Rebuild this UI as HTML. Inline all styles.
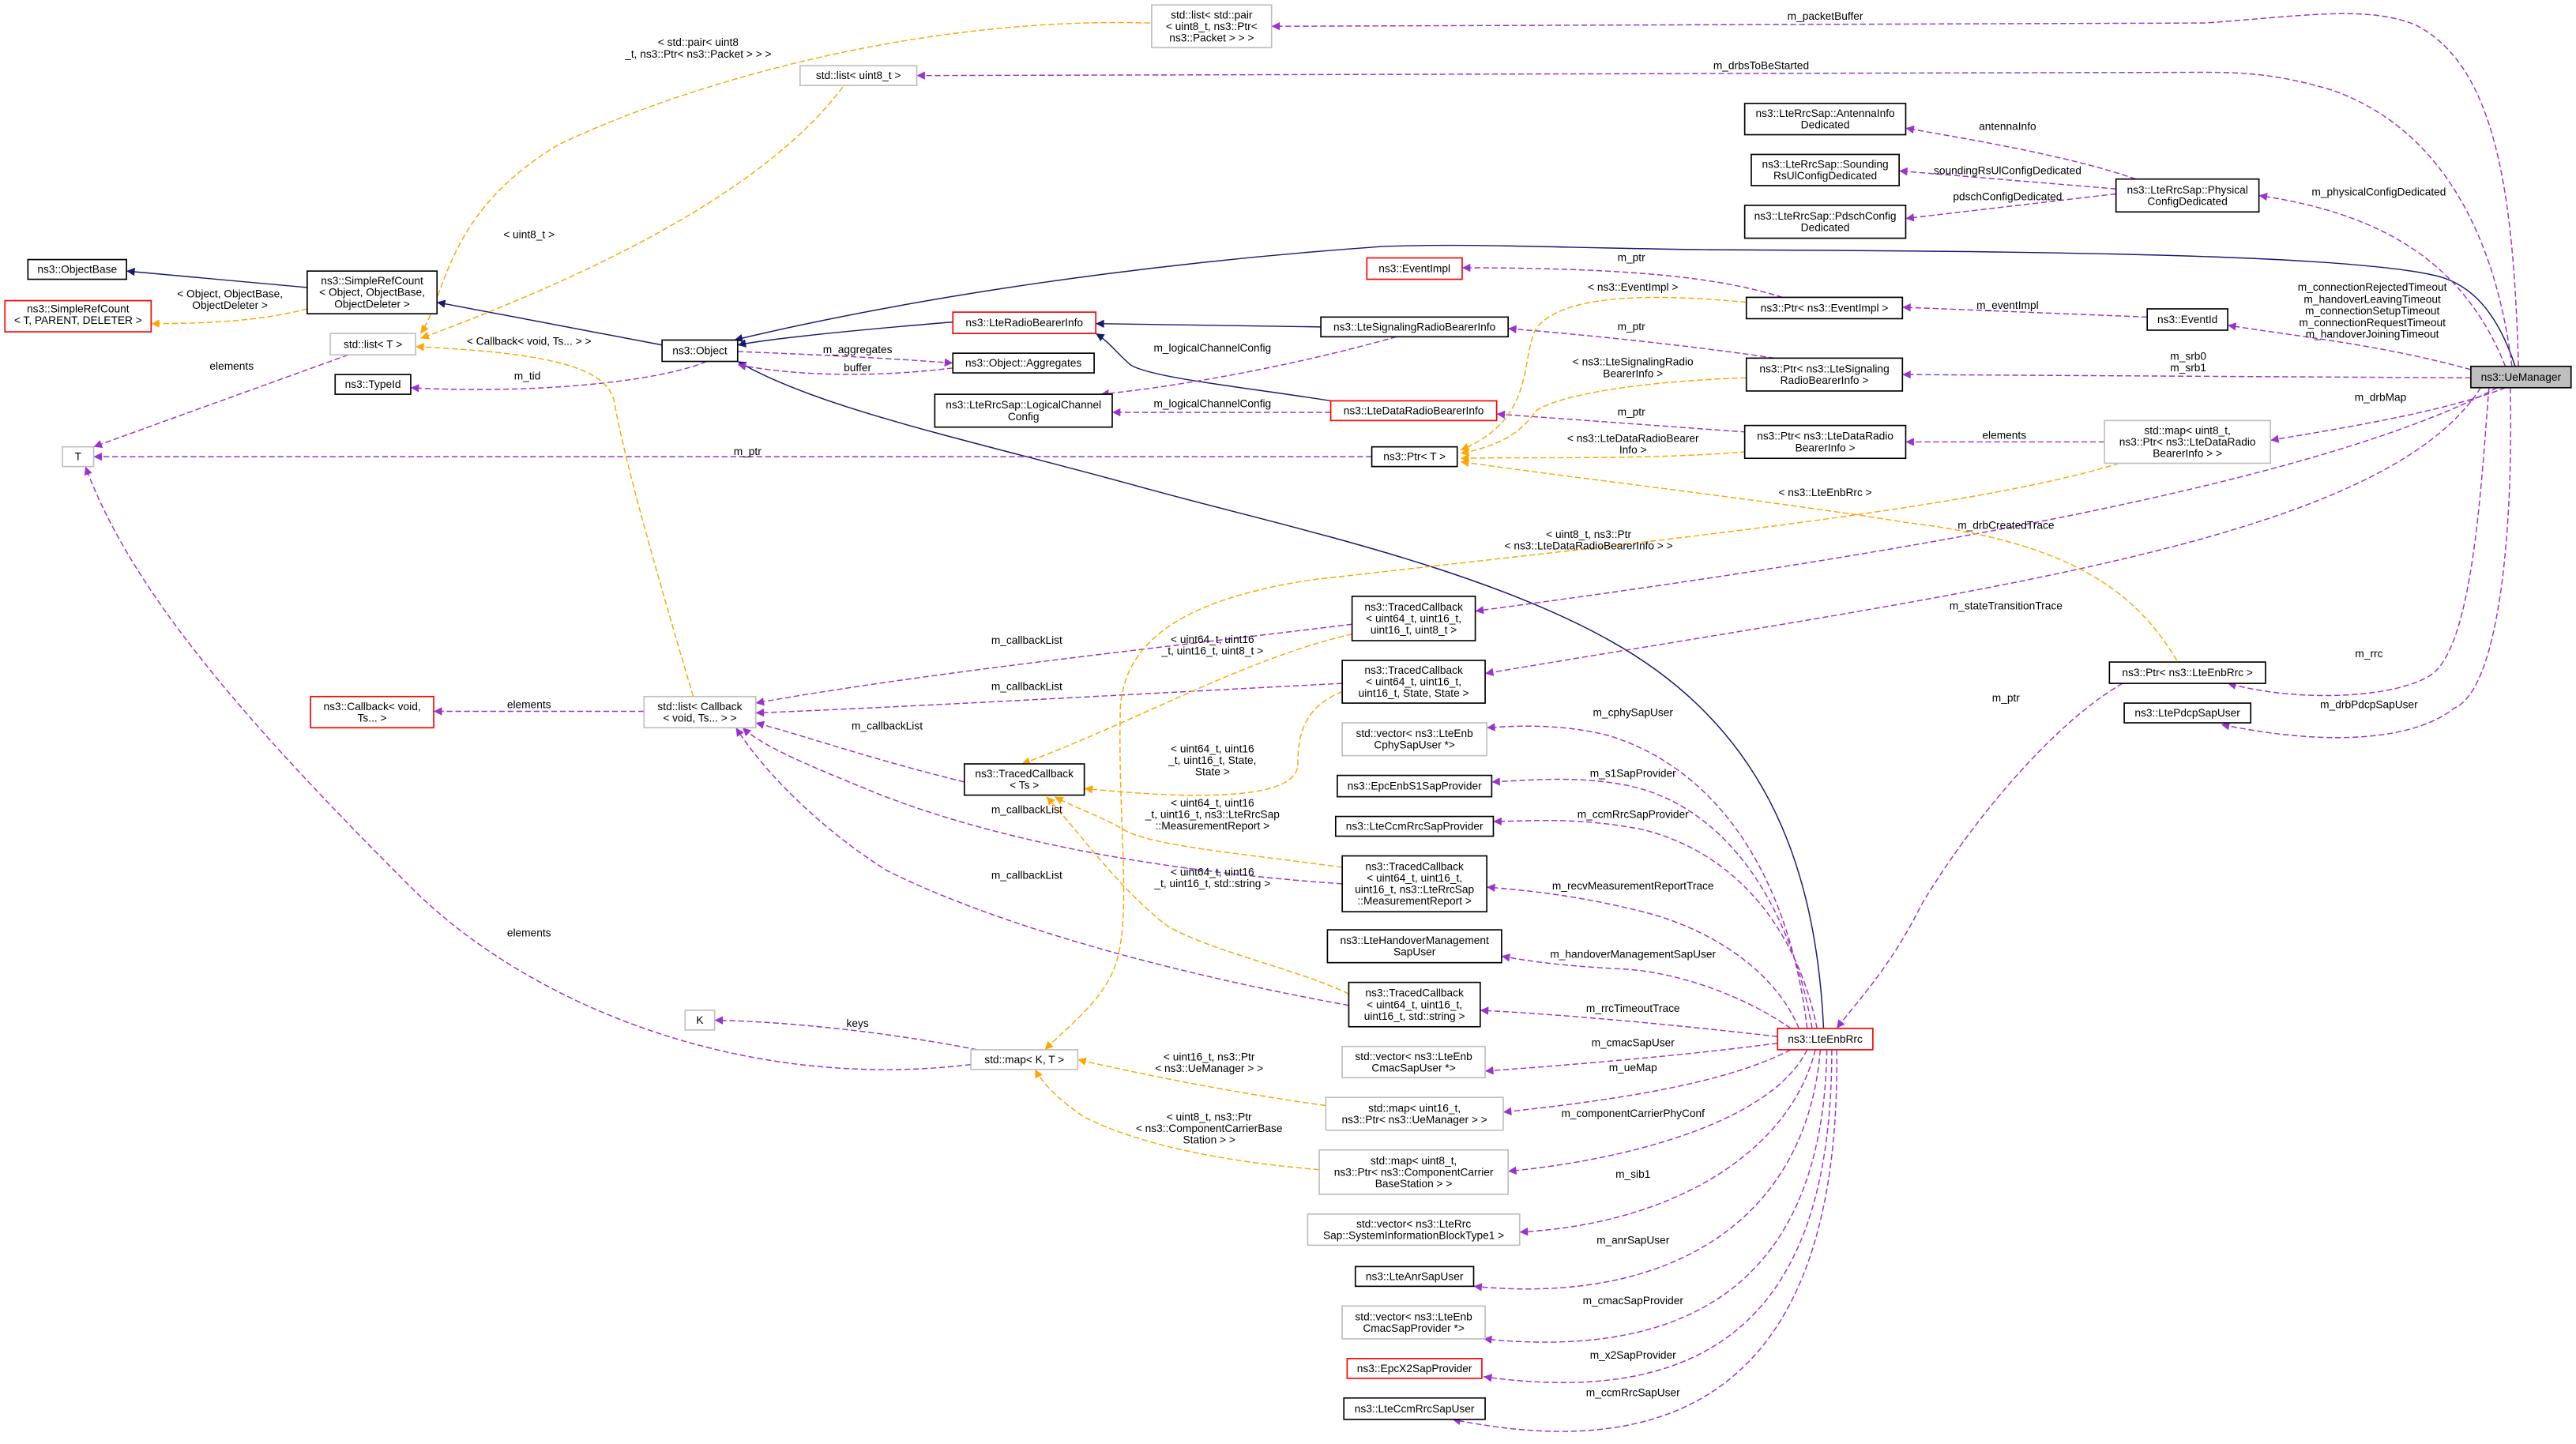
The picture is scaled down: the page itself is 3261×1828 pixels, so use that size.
<!DOCTYPE html>
<html><head><meta charset="utf-8"><style>
html,body{margin:0;padding:0;background:#fff;}
svg{display:block;}
text{font-family:"Liberation Sans",sans-serif;font-size:6.6px;fill:#000;text-anchor:middle;}
.b{fill:#fff;stroke:#000;stroke-width:0.8;}
.g{fill:#fff;stroke:#bfbfbf;stroke-width:0.8;}
.r{fill:#fff;stroke:#ff0000;stroke-width:0.8;}
.p{fill:none;stroke:#9a32cd;stroke-width:0.7;stroke-dasharray:3.5,1.8;}
.o{fill:none;stroke:#ffa500;stroke-width:0.7;stroke-dasharray:3.5,1.8;}
.n{fill:none;stroke:#191970;stroke-width:0.7;}
</style></head><body>
<svg width="3261" height="1828" viewBox="0 0 1568 879" preserveAspectRatio="none" xmlns="http://www.w3.org/2000/svg">
<defs>
<marker id="mp" viewBox="0 0 10 10" refX="10" refY="5" markerWidth="7" markerHeight="5" markerUnits="userSpaceOnUse" orient="auto"><path d="M0,0 L10,5 L0,10 z" fill="#9a32cd"/></marker>
<marker id="mo" viewBox="0 0 10 10" refX="10" refY="5" markerWidth="7" markerHeight="5" markerUnits="userSpaceOnUse" orient="auto"><path d="M0,0 L10,5 L0,10 z" fill="#ffa500"/></marker>
<marker id="mn" viewBox="0 0 10 10" refX="10" refY="5" markerWidth="7" markerHeight="5" markerUnits="userSpaceOnUse" orient="auto"><path d="M0,0 L10,5 L0,10 z" fill="#191970"/></marker>
</defs>

<g marker-end="url(#mn)">
<path class="n" d="M187,175 L77,165"/>
<path class="n" d="M403,210 L266,184"/>
<path class="n" d="M580,196 C520,201 470,206 449,210"/>
<path class="n" d="M1531,223 C1520,190 1505,175 1487,169 C1440,155 1250,153 1040,152 C950,151 900,148 842,150 C700,160 560,180 447,207"/>
<path class="n" d="M804,199 L667,197"/>
<path class="n" d="M810,244 C760,236 700,230 688,222 C680,215 675,208 667,203"/>
<path class="n" d="M1110,626 C1105,520 1070,440 980,390 C900,345 780,320 700,298 C600,270 500,250 449,220"/>
</g>

<g marker-end="url(#mp)">
<path class="p" d="M1533,223 C1530,120 1520,40 1470,15 C1440,3 1400,10 1342,14 L774,16"/>
<path class="p" d="M1529,223 C1520,150 1490,80 1420,55 C1390,46 1370,44 1342,44 L558,46"/>
<path class="p" d="M1525,223 C1500,160 1450,130 1375,119"/>
<path class="p" d="M1300,109 C1260,95 1200,85 1160,78"/>
<path class="p" d="M1288,115 L1156,104"/>
<path class="p" d="M1288,118 L1160,133"/>
<path class="p" d="M1307,193 L1158,187"/>
<path class="p" d="M1504,225 C1450,210 1400,205 1356,198"/>
<path class="p" d="M1504,230 L1158,228"/>
<path class="p" d="M1525,236 C1490,250 1430,260 1382,268"/>
<path class="p" d="M1281,269 L1160,269"/>
<path class="p" d="M1085,181 C1050,170 1000,163 890,163"/>
<path class="p" d="M1080,218 C1040,212 980,205 918,200"/>
<path class="p" d="M1063,263 L911,252"/>
<path class="p" d="M850,205 C790,222 720,235 670,240"/>
<path class="p" d="M810,251 L677,251"/>
<path class="p" d="M835,278 L57,278"/>
<path class="p" d="M449,214 C500,216 540,218 580,221"/>
<path class="p" d="M580,224 C540,229 490,230 449,222"/>
<path class="p" d="M430,220 C400,233 320,240 250,236"/>
<path class="p" d="M212,216 L57,272"/>
<path class="p" d="M591,648 C450,665 320,610 250,540 C150,440 80,360 52,284"/>
<path class="p" d="M600,640 C540,628 480,622 435,621"/>
<path class="p" d="M392,433 L264,433"/>
<path class="p" d="M823,380 C700,395 560,410 460,428"/>
<path class="p" d="M817,416 C700,422 560,430 460,434"/>
<path class="p" d="M587,476 C530,462 490,448 460,440"/>
<path class="p" d="M817,538 C700,530 600,510 529,481 C495,467 465,455 452,443"/>
<path class="p" d="M821,612 C700,590 600,560 540,530 C500,505 465,470 448,443"/>
<path class="p" d="M1520,236 C1400,300 1100,345 898,372"/>
<path class="p" d="M1510,236 C1450,330 1200,360 904,410"/>
<path class="p" d="M1515,236 C1510,300 1505,390 1481,410 C1460,425 1400,428 1356,416"/>
<path class="p" d="M1528,236 C1530,330 1520,420 1494,431 C1470,450 1420,455 1352,441"/>
<path class="p" d="M1292,416 C1250,440 1200,500 1170,550 C1150,590 1130,610 1118,626"/>
<path class="p" d="M1100,626 C1090,540 1050,470 980,448 C950,440 920,442 905,443"/>
<path class="p" d="M1103,626 C1090,550 1050,490 990,478 C960,472 930,475 908,476"/>
<path class="p" d="M1106,626 C1095,570 1060,520 1000,505 C960,497 930,500 909,500"/>
<path class="p" d="M1095,626 C1080,590 1040,565 1000,555 C960,545 930,542 905,540"/>
<path class="p" d="M1090,626 C1060,605 1020,592 990,590 C950,588 930,585 914,582"/>
<path class="p" d="M1082,631 C1030,625 960,618 901,615"/>
<path class="p" d="M1082,635 C1030,642 960,648 904,652"/>
<path class="p" d="M1090,639 C1050,660 980,670 915,677"/>
<path class="p" d="M1100,639 C1080,680 1000,705 918,713"/>
<path class="p" d="M1105,639 C1090,700 1020,745 925,750"/>
<path class="p" d="M1108,639 C1100,740 1020,795 897,783"/>
<path class="p" d="M1112,639 C1110,760 1050,830 903,815"/>
<path class="p" d="M1115,639 C1115,780 1060,860 903,838"/>
<path class="p" d="M1118,639 C1120,800 1060,900 884,864"/>
</g>

<g marker-end="url(#mo)">
<path class="o" d="M187,188 C160,195 130,197 92,197"/>
<path class="o" d="M700,14 C560,10 420,50 340,88 C270,130 272,180 256,203"/>
<path class="o" d="M513,53 C470,110 380,160 256,206"/>
<path class="o" d="M422,424 C400,350 380,280 374,245 C370,225 340,215 253,211"/>
<path class="o" d="M1063,184 C1000,178 950,180 935,200 C925,220 935,255 889,274"/>
<path class="o" d="M1063,230 C1000,232 950,240 935,250 C925,265 910,272 889,276"/>
<path class="o" d="M1063,275 C1000,280 940,278 889,279"/>
<path class="o" d="M1325,402 C1300,360 1260,330 1160,318 C1080,305 950,290 889,281"/>
<path class="o" d="M1290,282 C1200,310 1000,330 798,353 C720,365 685,390 682,430 C680,500 690,560 678,590 C670,610 650,625 636,639"/>
<path class="o" d="M823,386 C760,400 690,440 622,465"/>
<path class="o" d="M817,421 C795,430 790,445 790,465 C790,485 740,488 660,480"/>
<path class="o" d="M817,528 C760,520 700,515 684,505 C670,497 655,492 642,485"/>
<path class="o" d="M821,605 C790,590 740,580 711,564 C680,540 660,510 637,485"/>
<path class="o" d="M807,673 C750,665 700,655 656,645"/>
<path class="o" d="M803,712 C720,705 680,690 660,680 C645,670 635,660 630,651"/>
</g>

<text x="1111" y="12">m_packetBuffer</text>
<text x="1072" y="42">m_drbsToBeStarted</text>
<text x="1448" y="119">m_physicalConfigDedicated</text>
<text x="1222" y="79">antennaInfo</text>
<text x="1222" y="106">soundingRsUlConfigDedicated</text>
<text x="1222" y="122">pdschConfigDedicated</text>
<text x="1222" y="188">m_eventImpl</text>
<text x="1444" y="177">m_connectionRejectedTimeout</text>
<text x="1444" y="184.5">m_handoverLeavingTimeout</text>
<text x="1444" y="191.5">m_connectionSetupTimeout</text>
<text x="1444" y="198.5">m_connectionRequestTimeout</text>
<text x="1444" y="205.5">m_handoverJoiningTimeout</text>
<text x="1332" y="219">m_srb0</text>
<text x="1332" y="226">m_srb1</text>
<text x="1449" y="244">m_drbMap</text>
<text x="1220" y="267">elements</text>
<text x="993" y="159">m_ptr</text>
<text x="993" y="201">m_ptr</text>
<text x="993" y="253">m_ptr</text>
<text x="738" y="214">m_logicalChannelConfig</text>
<text x="738" y="248">m_logicalChannelConfig</text>
<text x="455" y="277">m_ptr</text>
<text x="522" y="215">m_aggregates</text>
<text x="522" y="226">buffer</text>
<text x="321" y="231">m_tid</text>
<text x="141" y="225">elements</text>
<text x="322" y="570">elements</text>
<text x="522" y="625">keys</text>
<text x="322" y="431">elements</text>
<text x="625" y="392">m_callbackList</text>
<text x="625" y="420">m_callbackList</text>
<text x="540" y="444">m_callbackList</text>
<text x="625" y="495">m_callbackList</text>
<text x="625" y="535">m_callbackList</text>
<text x="140" y="181">&lt; Object, ObjectBase,</text>
<text x="140" y="188">ObjectDeleter &gt;</text>
<text x="425" y="28">&lt; std::pair&lt; uint8</text>
<text x="425" y="35">_t, ns3::Ptr&lt; ns3::Packet &gt; &gt; &gt;</text>
<text x="322" y="145">&lt; uint8_t &gt;</text>
<text x="322" y="210">&lt; Callback&lt; void, Ts... &gt; &gt;</text>
<text x="994" y="177">&lt; ns3::EventImpl &gt;</text>
<text x="994" y="222.5">&lt; ns3::LteSignalingRadio</text>
<text x="994" y="229.5">BearerInfo &gt;</text>
<text x="994" y="269">&lt; ns3::LteDataRadioBearer</text>
<text x="994" y="276">Info &gt;</text>
<text x="1111" y="302">&lt; ns3::LteEnbRrc &gt;</text>
<text x="967" y="327.5">&lt; uint8_t, ns3::Ptr</text>
<text x="967" y="334.5">&lt; ns3::LteDataRadioBearerInfo &gt; &gt;</text>
<text x="738" y="391.5">&lt; uint64_t, uint16</text>
<text x="738" y="398.5">_t, uint16_t, uint8_t &gt;</text>
<text x="738" y="458">&lt; uint64_t, uint16</text>
<text x="738" y="465">_t, uint16_t, State,</text>
<text x="738" y="472">State &gt;</text>
<text x="738" y="491">&lt; uint64_t, uint16</text>
<text x="738" y="498">_t, uint16_t, ns3::LteRrcSap</text>
<text x="738" y="505">::MeasurementReport &gt;</text>
<text x="738" y="533">&lt; uint64_t, uint16</text>
<text x="738" y="540">_t, uint16_t, std::string &gt;</text>
<text x="736" y="645.5">&lt; uint16_t, ns3::Ptr</text>
<text x="736" y="652.5">&lt; ns3::UeManager &gt; &gt;</text>
<text x="736" y="682">&lt; uint8_t, ns3::Ptr</text>
<text x="736" y="689">&lt; ns3::ComponentCarrierBase</text>
<text x="736" y="696">Station &gt; &gt;</text>
<text x="1221" y="322">m_drbCreatedTrace</text>
<text x="1221" y="371">m_stateTransitionTrace</text>
<text x="1442" y="400">m_rrc</text>
<text x="1442" y="431">m_drbPdcpSapUser</text>
<text x="1221" y="427">m_ptr</text>
<text x="994" y="436">m_cphySapUser</text>
<text x="994" y="473">m_s1SapProvider</text>
<text x="994" y="498">m_ccmRrcSapProvider</text>
<text x="994" y="541.5">m_recvMeasurementReportTrace</text>
<text x="994" y="583">m_handoverManagementSapUser</text>
<text x="994" y="616">m_rrcTimeoutTrace</text>
<text x="994" y="637">m_cmacSapUser</text>
<text x="994" y="652">m_ueMap</text>
<text x="994" y="680">m_componentCarrierPhyConf</text>
<text x="994" y="717">m_sib1</text>
<text x="994" y="757">m_anrSapUser</text>
<text x="994" y="794">m_cmacSapProvider</text>
<text x="994" y="827">m_x2SapProvider</text>
<text x="994" y="850">m_ccmRrcSapUser</text>

<rect class="b" x="17" y="158" width="60" height="12"/><text x="47" y="166.2">ns3::ObjectBase</text>
<rect class="r" x="3" y="183" width="89" height="19"/><text x="47.5" y="190.2">ns3::SimpleRefCount</text><text x="47.5" y="197.2">&lt; T, PARENT, DELETER &gt;</text>
<rect class="b" x="187" y="165" width="79" height="26"/><text x="226.5" y="173.2">ns3::SimpleRefCount</text><text x="226.5" y="180.2">&lt; Object, ObjectBase,</text><text x="226.5" y="187.2">ObjectDeleter &gt;</text>
<rect class="g" x="201" y="203" width="52" height="13"/><text x="227" y="211.7">std::list&lt; T &gt;</text>
<rect class="b" x="204" y="228" width="46" height="12"/><text x="227" y="236.2">ns3::TypeId</text>
<rect class="b" x="403" y="207" width="46" height="13"/><text x="426" y="215.7">ns3::Object</text>
<rect class="g" x="38" y="272" width="19" height="12"/><text x="47.5" y="280.2">T</text>
<rect class="g" x="487" y="40" width="71" height="12"/><text x="522.5" y="48.2">std::list&lt; uint8_t &gt;</text>
<rect class="g" x="701" y="3" width="73" height="26"/><text x="737.5" y="11.2">std::list&lt; std::pair</text><text x="737.5" y="18.2">&lt; uint8_t, ns3::Ptr&lt;</text><text x="737.5" y="25.2">ns3::Packet &gt; &gt; &gt;</text>
<rect class="r" x="832" y="157" width="58" height="13"/><text x="861" y="165.7">ns3::EventImpl</text>
<rect class="r" x="580" y="190" width="87" height="13"/><text x="623.5" y="198.7">ns3::LteRadioBearerInfo</text>
<rect class="b" x="804" y="193" width="114" height="12"/><text x="861" y="201.2">ns3::LteSignalingRadioBearerInfo</text>
<rect class="b" x="580" y="215" width="86" height="12"/><text x="623" y="223.2">ns3::Object::Aggregates</text>
<rect class="b" x="569" y="240" width="108" height="20"/><text x="623" y="248.7">ns3::LteRrcSap::LogicalChannel</text><text x="623" y="255.7">Config</text>
<rect class="r" x="810" y="244" width="101" height="12"/><text x="860.5" y="252.2">ns3::LteDataRadioBearerInfo</text>
<rect class="b" x="835" y="272" width="52" height="12"/><text x="861" y="280.2">ns3::Ptr&lt; T &gt;</text>
<rect class="b" x="1062" y="63" width="98" height="19"/><text x="1111" y="71.2">ns3::LteRrcSap::AntennaInfo</text><text x="1111" y="78.2">Dedicated</text>
<rect class="b" x="1066" y="94" width="90" height="19"/><text x="1111" y="102.2">ns3::LteRrcSap::Sounding</text><text x="1111" y="109.2">RsUlConfigDedicated</text>
<rect class="b" x="1062" y="125" width="98" height="20"/><text x="1111" y="133.7">ns3::LteRrcSap::PdschConfig</text><text x="1111" y="140.7">Dedicated</text>
<rect class="b" x="1288" y="109" width="87" height="20"/><text x="1331.5" y="117.7">ns3::LteRrcSap::Physical</text><text x="1331.5" y="124.7">ConfigDedicated</text>
<rect class="b" x="1063" y="181" width="95" height="13"/><text x="1110.5" y="189.7">ns3::Ptr&lt; ns3::EventImpl &gt;</text>
<rect class="b" x="1307" y="188" width="49" height="13"/><text x="1331.5" y="196.7">ns3::EventId</text>
<rect class="b" x="1063" y="218" width="95" height="20"/><text x="1110.5" y="226.7">ns3::Ptr&lt; ns3::LteSignaling</text><text x="1110.5" y="233.7">RadioBearerInfo &gt;</text>
<rect x="1504" y="223" width="61" height="13" fill="#bfbfbf" stroke="#000" stroke-width="0.8"/><text x="1534.5" y="231.7">ns3::UeManager</text>
<rect class="b" x="1062" y="259" width="98" height="20"/><text x="1111" y="267.7">ns3::Ptr&lt; ns3::LteDataRadio</text><text x="1111" y="274.7">BearerInfo &gt;</text>
<rect class="g" x="1281" y="256" width="101" height="26"/><text x="1331.5" y="264.2">std::map&lt; uint8_t,</text><text x="1331.5" y="271.2">ns3::Ptr&lt; ns3::LteDataRadio</text><text x="1331.5" y="278.2">BearerInfo &gt; &gt;</text>
<rect class="r" x="189" y="424" width="75" height="19"/><text x="226.5" y="432.2">ns3::Callback&lt; void,</text><text x="226.5" y="439.2">Ts... &gt;</text>
<rect class="g" x="392" y="424" width="68" height="19"/><text x="426" y="432.2">std::list&lt; Callback</text><text x="426" y="439.2">&lt; void, Ts... &gt; &gt;</text>
<rect class="b" x="823" y="363" width="75" height="27"/><text x="860.5" y="371.7">ns3::TracedCallback</text><text x="860.5" y="378.7">&lt; uint64_t, uint16_t,</text><text x="860.5" y="385.7">uint16_t, uint8_t &gt;</text>
<rect class="b" x="817" y="402" width="87" height="26"/><text x="860.5" y="410.2">ns3::TracedCallback</text><text x="860.5" y="417.2">&lt; uint64_t, uint16_t,</text><text x="860.5" y="424.2">uint16_t, State, State &gt;</text>
<rect class="b" x="587" y="465" width="73" height="19"/><text x="623.5" y="473.2">ns3::TracedCallback</text><text x="623.5" y="480.2">&lt; Ts &gt;</text>
<rect class="g" x="817" y="440" width="88" height="20"/><text x="861" y="448.7">std::vector&lt; ns3::LteEnb</text><text x="861" y="455.7">CphySapUser *&gt;</text>
<rect class="b" x="814" y="472" width="94" height="13"/><text x="861" y="480.7">ns3::EpcEnbS1SapProvider</text>
<rect class="b" x="813" y="497" width="96" height="12"/><text x="861" y="505.2">ns3::LteCcmRrcSapProvider</text>
<rect class="b" x="817" y="521" width="88" height="34"/><text x="861" y="529.7">ns3::TracedCallback</text><text x="861" y="536.7">&lt; uint64_t, uint16_t,</text><text x="861" y="543.7">uint16_t, ns3::LteRrcSap</text><text x="861" y="550.7">::MeasurementReport &gt;</text>
<rect class="b" x="808" y="566" width="106" height="20"/><text x="861" y="574.7">ns3::LteHandoverManagement</text><text x="861" y="581.7">SapUser</text>
<rect class="b" x="821" y="598" width="80" height="27"/><text x="861" y="606.7">ns3::TracedCallback</text><text x="861" y="613.7">&lt; uint64_t, uint16_t,</text><text x="861" y="620.7">uint16_t, std::string &gt;</text>
<rect class="r" x="1082" y="626" width="58" height="13"/><text x="1111" y="634.7">ns3::LteEnbRrc</text>
<rect class="g" x="591" y="639" width="65" height="12"/><text x="623.5" y="647.2">std::map&lt; K, T &gt;</text>
<rect class="g" x="817" y="637" width="87" height="19"/><text x="860.5" y="645.2">std::vector&lt; ns3::LteEnb</text><text x="860.5" y="652.2">CmacSapUser *&gt;</text>
<rect class="g" x="807" y="668" width="108" height="20"/><text x="861" y="676.7">std::map&lt; uint16_t,</text><text x="861" y="683.7">ns3::Ptr&lt; ns3::UeManager &gt; &gt;</text>
<rect class="g" x="803" y="700" width="115" height="27"/><text x="860.5" y="708.7">std::map&lt; uint8_t,</text><text x="860.5" y="715.7">ns3::Ptr&lt; ns3::ComponentCarrier</text><text x="860.5" y="722.7">BaseStation &gt; &gt;</text>
<rect class="g" x="796" y="739" width="129" height="19"/><text x="860.5" y="747.2">std::vector&lt; ns3::LteRrc</text><text x="860.5" y="754.2">Sap::SystemInformationBlockType1 &gt;</text>
<rect class="b" x="825" y="771" width="72" height="12"/><text x="861" y="779.2">ns3::LteAnrSapUser</text>
<rect class="g" x="817" y="795" width="87" height="20"/><text x="860.5" y="803.7">std::vector&lt; ns3::LteEnb</text><text x="860.5" y="810.7">CmacSapProvider *&gt;</text>
<rect class="r" x="820" y="827" width="82" height="12"/><text x="861" y="835.2">ns3::EpcX2SapProvider</text>
<rect class="b" x="818" y="851" width="86" height="13"/><text x="861" y="859.7">ns3::LteCcmRrcSapUser</text>
<rect class="g" x="417" y="615" width="18" height="12"/><text x="426" y="623.2">K</text>
<rect class="b" x="1284" y="403" width="95" height="13"/><text x="1331.5" y="411.7">ns3::Ptr&lt; ns3::LteEnbRrc &gt;</text>
<rect class="b" x="1293" y="428" width="77" height="12"/><text x="1331.5" y="436.2">ns3::LtePdcpSapUser</text>
</svg>
</body></html>
